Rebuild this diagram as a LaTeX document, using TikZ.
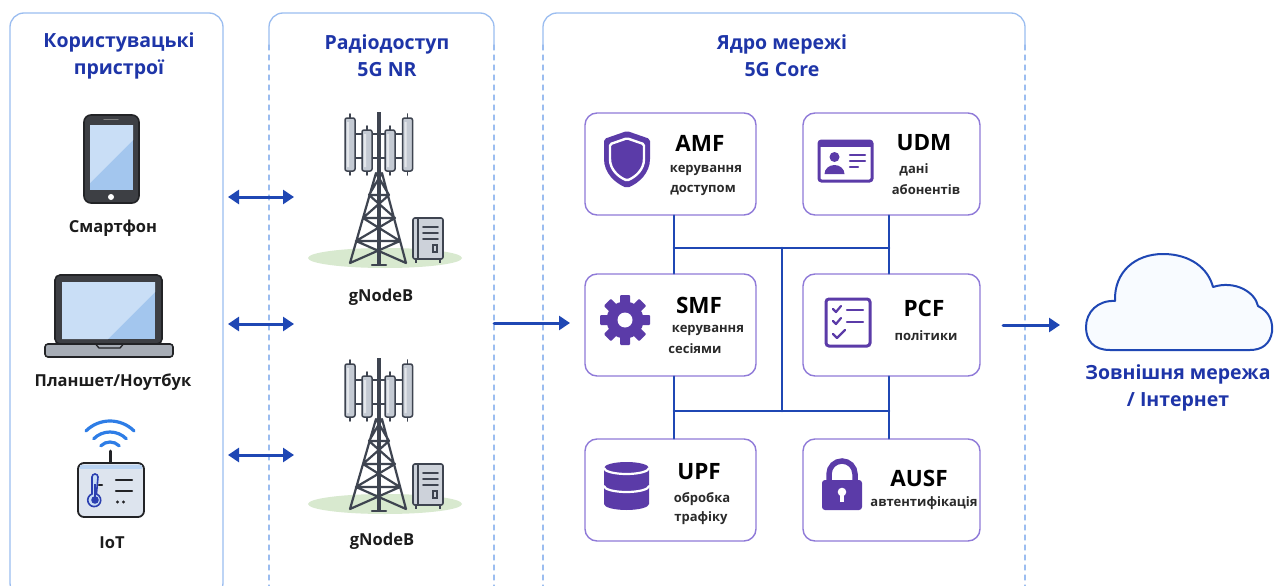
\documentclass[tikz,border=0pt]{standalone}
\usepackage{fontspec}
\setmainfont{Open Sans}
\usetikzlibrary{arrows.meta,calc}

\definecolor{navy}{HTML}{1E35A8}
\definecolor{linkblue}{HTML}{1F47B4}
\definecolor{panelblue}{HTML}{9BBDF0}
\definecolor{nfpurple}{HTML}{5B3BA8}
\definecolor{nfborder}{HTML}{8F7AD8}
\definecolor{ink}{HTML}{1C1C1C}
\definecolor{desc}{HTML}{2A2A2A}
\definecolor{towergray}{HTML}{3E4450}
\definecolor{partgray}{HTML}{C4CAD3}
\definecolor{ground}{HTML}{D8E9CF}
\definecolor{screenblue}{HTML}{A3C6EE}
\definecolor{screenlight}{HTML}{C9DEF6}
\definecolor{devbody}{HTML}{3D3F44}
\definecolor{devedge}{HTML}{222326}
\definecolor{basegray}{HTML}{A7ADB6}
\definecolor{wifiblue}{HTML}{2E7DE6}
\definecolor{iotface}{HTML}{DDE4EE}
\definecolor{iotband}{HTML}{B9D3F2}
\definecolor{thermo}{HTML}{2B3FB0}
\definecolor{cloudfill}{HTML}{F8FBFF}

\tikzset{
  paneltitle/.style={font=\bfseries\fontsize{19.5}{27}\selectfont, text=navy, align=center},
  devlabel/.style={font=\bfseries\fontsize{16.5}{19}\selectfont, text=ink},
  nfbox/.style={draw=nfborder, line width=1.4pt, rounded corners=12pt, fill=white,
    minimum height=102pt, inner sep=0pt},
  nfname/.style={font=\bfseries\fontsize{22.5}{25}\selectfont, text=black},
  nfdesc/.style={font=\bfseries\fontsize{13}{15}\selectfont, text=desc},
  link/.style={linkblue, line width=2.6pt},
  flow/.style={linkblue, line width=3pt, -{Triangle[length=11pt,width=14pt]}},
  biflow/.style={linkblue, line width=3pt,
    {Triangle[length=11pt,width=14pt]}-{Triangle[length=11pt,width=14pt]}},
  panel/.style={draw=panelblue, line width=1.3pt},
  paneldash/.style={draw=panelblue, line width=1.2pt, dash pattern=on 5pt off 5pt},
  % base station: antennas, lattice mast, cabinet and ground patch
  gnb/.pic={
    \fill[ground] (6,140) ellipse [x radius=77, y radius=10];
    \draw[towergray, line width=2.2pt, line join=round]
      (-3,55) -- (-29,145) (3,55) -- (27,145)
      (-3,55) -- (10,77) (3,55) -- (-10,77)
      (-10,77) -- (16,100) (10,77) -- (-16,100)
      (-16,100) -- (21,123) (16,100) -- (-23,123)
      (-23,123) -- (27,145) (21,123) -- (-29,145)
      (-10,77) -- (10,77) (-16,100) -- (16,100) (-23,123) -- (21,123);
    \draw[towergray, line width=4pt, line cap=butt] (0,-6) -- (0,147);
    \draw[towergray, line width=2.5pt] (-7,147) -- (7,147);
    \draw[towergray, line width=1.8pt] (-29,16) -- (28,16) (-29,40) -- (28,40);
    \foreach \xa/\ya/\yb in {-29/0/53, 28.5/0/53, -12/12/53, 11/12/53}{
      \draw[towergray, line width=1.8pt] (\xa,\ya-4) -- (\xa,\yb+4);
      \draw[towergray, fill=partgray, line width=1.5pt, rounded corners=2pt]
        (\xa-5,\ya) rectangle (\xa+5,\yb);
    }
    \fill[white, opacity=0.55] (-32,4) rectangle (-30,49) (25.5,4) rectangle (27.5,49)
      (-15,16) rectangle (-13,49) (8,16) rectangle (10,49);
    \draw[towergray, fill=partgray!85, line width=1.6pt, rounded corners=2pt]
      (34,100) rectangle (64,141);
    \draw[towergray, line width=1.2pt] (39,101) -- (39,140);
    \draw[towergray, line width=1.8pt, line cap=butt] (37,141) -- (37,145) (61,141) -- (61,145);
    \draw[towergray, line width=1.6pt] (44,109) -- (59,109) (44,115) -- (59,115) (44,121) -- (59,121);
    \draw[towergray, line width=1.2pt] (54,127) rectangle (58,134);
  }
}

\begin{document}
\begin{tikzpicture}[x=1pt, y=-1pt, line cap=round]
\useasboundingbox (0,0) rectangle (1275,586);
\fill[white] (0,0) rectangle (1275,586);

% ---------- panels ----------
\draw[panel, rounded corners=14pt] (10,13) rectangle (223,597);
\draw[panel, rounded corners=14pt] (269,45) -- (269,13) -- (494,13) -- (494,45);
\draw[paneldash] (269,45) -- (269,592) (494,45) -- (494,592);
\draw[panel, rounded corners=14pt] (543,45) -- (543,13) -- (1025,13) -- (1025,45);
\draw[paneldash] (543,45) -- (543,592) (1025,45) -- (1025,592);

\node[paneltitle] (ttl-ue) at (119,56) {Користувацькі\\пристрої};
\node[paneltitle] (ttl-ran) at (387,56) {Радіодоступ\\5G NR};
\node[paneltitle] (ttl-core) at (782,56) {Ядро мережі\\5G Core};

% ---------- user devices ----------
% smartphone
\draw[fill=devbody, draw=devedge, line width=1.6pt, rounded corners=7pt] (84,115) rectangle (139,203);
\fill[screenblue] (90,125) rectangle (133,190);
\fill[screenlight] (90,125) -- (133,125) -- (133,140) -- (90,183) -- cycle;
\fill[white] (111,197) circle (3);
\draw[gray, line width=1.2pt] (104,119.5) -- (118,119.5);
\node[devlabel] (lbl-phone) at (113,228) {Смартфон};

% laptop
\draw[fill=devbody, draw=devedge, line width=1.6pt, rounded corners=5pt] (55,275) rectangle (162,344);
\fill[screenblue] (62,282) rectangle (155,339);
\fill[screenlight] (62,282) -- (155,282) -- (155,292) -- (108,339) -- (62,339) -- cycle;
\draw[fill=basegray, draw=devedge, line width=1.6pt, rounded corners=3pt] (45,344) rectangle (173,357);
\draw[devedge, line width=1.3pt] (96,344.5) -- (99,348) -- (120,348) -- (123,344.5);
\node[devlabel] (lbl-laptop) at (113,382) {Планшет/Ноутбук};

% IoT sensor
\foreach \r in {13,23,34}
  \draw[wifiblue, line width=3.2pt] ($(110,455)+(225:\r)$) arc[start angle=225, end angle=315, radius=\r];
\draw[devedge, line width=3pt] (110,451) -- (110,463);
\draw[fill=iotface, draw=devedge, line width=1.8pt, rounded corners=6pt] (78,463) rectangle (144,517);
\fill[iotband] (80,465) -- (142,465) -- (142,469) -- (80,469) -- cycle;
\draw[thermo, fill=screenlight, line width=1.6pt] (92,477) -- (92,494) arc[start angle=-110, end angle=-430, radius=6.5] -- (98,477) arc[start angle=0, end angle=-180, radius=3] -- cycle;
\fill[thermo] (95,500) circle (3.8);
\fill[thermo] (94,484) rectangle (96,498);
\draw[devedge, line width=2.2pt] (102,485) -- (99,485);
\draw[devedge, line width=2.3pt] (116,480) -- (132,480) (116,491) -- (132,491);
\fill[devedge] (117.5,502) circle (1.7) (123.5,502) circle (1.7);
\node[devlabel] (lbl-iot) at (112,543) {IoT};

% ---------- radio access ----------
\pic (gnb-a) at (379,118) {gnb};
\node[devlabel] (lbl-gnb-a) at (381,297) {gNodeB};
\pic (gnb-b) at (379,364) {gnb};
\node[devlabel] (lbl-gnb-b) at (382,541) {gNodeB};

\coordinate (air1-l) at (228,197); \coordinate (air1-r) at (294,197);
\coordinate (air2-l) at (228,324); \coordinate (air2-r) at (294,324);
\coordinate (air3-l) at (228,455); \coordinate (air3-r) at (294,455);
\draw[biflow] (air1-l) -- (air1-r);
\draw[biflow] (air2-l) -- (air2-r);
\draw[biflow] (air3-l) -- (air3-r);

% ---------- core network functions ----------
\node[nfbox, minimum width=171pt] (amf)  at (670.5,164) {};
\node[nfbox, minimum width=177pt] (udm)  at (891.5,164) {};
\node[nfbox, minimum width=171pt] (smf)  at (670.5,325) {};
\node[nfbox, minimum width=177pt] (pcf)  at (891.5,325) {};
\node[nfbox, minimum width=171pt] (upf)  at (670.5,490) {};
\node[nfbox, minimum width=177pt] (ausf) at (891.5,490) {};

% service bus
\coordinate (busl) at (674,248);
\coordinate (busr) at (889,248);
\coordinate (busm) at (782,248);
\coordinate (busb) at (782,411);
\draw[link] (amf.south -| busl) -- (smf.north -| busl);
\draw[link] (udm.south -| busr) -- (pcf.north -| busr);
\draw[link] (busl) -- (busr);
\draw[link] (busm) -- (busb);
\draw[link] (busb -| busl) -- (busb -| busr);
\draw[link] (smf.south -| busl) -- (upf.north -| busl);
\draw[link] (pcf.south -| busr) -- (ausf.north -| busr);

% AMF: shield
\begin{scope}[shift={(627,159)}]
  \fill[nfpurple, rounded corners=2pt] (0,-28) -- (23,-20) -- (23,-2) .. controls (23,14) and (12,24) .. (0,29) .. controls (-12,24) and (-23,14) .. (-23,-2) -- (-23,-20) -- cycle;
  \draw[white, line width=2.4pt, rounded corners=1.5pt, scale=0.74] (0,-28) -- (23,-20) -- (23,-2) .. controls (23,14) and (12,24) .. (0,29) .. controls (-12,24) and (-23,14) .. (-23,-2) -- (-23,-20) -- cycle;
\end{scope}
\node[nfname] (amf-name) at (700,143) {AMF};
\node[nfdesc] (amf-d1) at (706,170) {керування};
\node[nfdesc] (amf-d2) at (703,190) {доступом};

% UDM: subscriber card
\draw[nfpurple, line width=3pt, rounded corners=2.5pt, fill=white] (819,141) rectangle (872,181);
\fill[nfpurple] (819,141) rectangle (872,147);
\fill[nfpurple] (834.5,157) circle (5);
\fill[nfpurple] (824.5,174) arc[start angle=180, end angle=360, x radius=10, y radius=9] -- cycle;
\draw[nfpurple, line width=2.4pt] (850,155) -- (865,155) (850,161) -- (865,161) (850,167) -- (858,167);
\node[nfname] (udm-name) at (924,143) {UDM};
\node[nfdesc] (udm-d1) at (914,170) {дані};
\node[nfdesc] (udm-d2) at (926,190) {абонентів};

% SMF: gear
\fill[nfpurple] (625,320) circle (18.5);
\foreach \a in {0,45,...,315}
  \fill[nfpurple, rotate around={\a:(625,320)}, rounded corners=1pt] (620,295) rectangle (630,306);
\fill[white] (625,320) circle (7.5);
\node[nfname] (smf-name) at (699,305) {SMF};
\node[nfdesc] (smf-d1) at (708,330) {керування};
\node[nfdesc] (smf-d2) at (695,349) {сесіями};

% PCF: policy checklist
\draw[nfpurple, line width=3pt, rounded corners=3pt, fill=white] (826,299) rectangle (870,346);
\draw[nfpurple, line width=2.2pt, line join=round]
  (833,309) -- (836,312) -- (841,306)
  (833,321) -- (836,324) -- (841,318)
  (833,334) -- (837,338) -- (845,330);
\draw[nfpurple, line width=2.2pt] (847,310) -- (863,310) (847,322) -- (863,322);
\node[nfname] (pcf-name) at (924,308) {PCF};
\node[nfdesc] (pcf-d1) at (926,336) {політики};

% UPF: data store
\fill[nfpurple] (604,468) -- (604,504) arc[start angle=180, end angle=0, x radius=22.5, y radius=6] -- (649,468) arc[start angle=0, end angle=-180, x radius=22.5, y radius=6] -- cycle;
\draw[white, line width=2.2pt] (604,468) arc[start angle=180, end angle=0, x radius=22.5, y radius=6];
\draw[white, line width=2.2pt] (604,486) arc[start angle=180, end angle=0, x radius=22.5, y radius=6];
\node[nfname] (upf-name) at (699,472) {UPF};
\node[nfdesc] (upf-d1) at (702,499) {обробка};
\node[nfdesc] (upf-d2) at (701,518) {трафіку};

% AUSF: padlock
\draw[nfpurple, line width=5.5pt, line cap=butt] (829,483) -- (829,474) arc[start angle=180, end angle=360, radius=13] -- (855,483);
\fill[nfpurple, rounded corners=3pt] (822,480) rectangle (862,510);
\fill[white] (842,492) circle (4.3);
\fill[white] (839.6,493) rectangle (844.4,502);
\node[nfname] (ausf-name) at (919,478) {AUSF};
\node[nfdesc] (ausf-d1) at (924,503) {автентифікація};

% ---------- external network ----------
\draw[linkblue, fill=cloudfill, line width=2pt, line join=round] (1110,350)
  .. controls (1093,350) and (1086,340) .. (1086,327)
  .. controls (1086,312) and (1098,300) .. (1115,301)
  .. controls (1114,272) and (1135,254) .. (1163,254)
  .. controls (1190,254) and (1208,268) .. (1213,287)
  .. controls (1235,280) and (1255,292) .. (1258,306)
  .. controls (1270,312) and (1273,322) .. (1272,332)
  .. controls (1270,344) and (1262,350) .. (1250,350)
  -- cycle;
\node[paneltitle, text=navy] (lbl-ext) at (1178,388) {Зовнішня мережа\\/ Інтернет};

% ---------- data flow ----------
\coordinate (ran-out) at (494,323);
\coordinate (core-in) at (570,323);
\coordinate (core-out) at (1003,325);
\coordinate (ext-in) at (1060,325);
\draw[flow] (ran-out) -- (core-in);
\draw[flow] (core-out) -- (ext-in);
\end{tikzpicture}
\end{document}
